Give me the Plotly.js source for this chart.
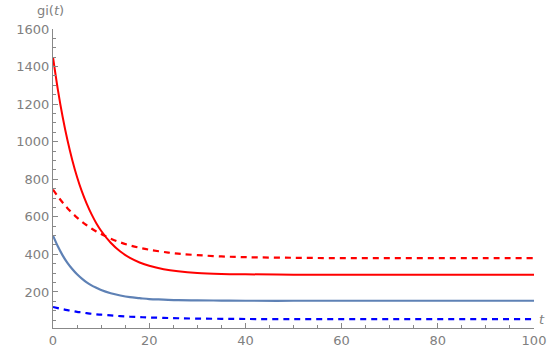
<!DOCTYPE html>
<html>
<head>
<meta charset="utf-8">
<script src="https://cdn.plot.ly/plotly-3.0.1.min.js"></script>
<style>html,body{margin:0;padding:0;background:#fff;}#chart{width:555px;height:350px;}</style>
</head>
<body>
<div id="chart"></div>
<script>
// t values sampled along the curves
const tVals = [0,1,2,3,4,5,6,7,8,9,10,12,14,16,18,20,23,26,30,35,40,50,60,70,80,90,100];
// red solid curve
const redSolid = [1450,1279,1133,1009,903,812,735,670,614,566,526,462,415,381,357,339,321,310,301,296,294,292,292,292,292,292,292];
// red dashed curve
const redDashed = [745,709,676,646,620,596,574,555,538,522,508,484,464,448,435,425,413,404,396,389,385,382,380,380,380,380,380];
// blue (steel) solid curve
const blueSolid = [500,443,395,355,322,294,271,251,235,222,210,193,181,172,167,162,159,156,155,154,153,153,153,153,153,153,153];
// blue dashed curve
const blueDashed = [120,114,108,103,99,94,91,87,84,81,79,75,71,68,66,64,62,60,58,57,56,55,55,55,55,55,55];

const xTicks = [0,20,40,60,80,100];
const yTicks = [200,400,600,800,1000,1200,1400,1600];

const traces = [
  {x: tVals, y: redDashed, mode:'lines', line:{color:'#ff0000', width:2.2, dash:'6px,5px', shape:'spline'}},
  {x: tVals, y: blueDashed, mode:'lines', line:{color:'#0000ff', width:2.2, dash:'6px,5px', shape:'spline'}},
  {x: tVals, y: blueSolid, mode:'lines', line:{color:'#5e81b5', width:2.2, shape:'spline'}},
  {x: tVals, y: redSolid, mode:'lines', line:{color:'#ff0000', width:2, shape:'spline'}}
];

const tickFont = {family:'DejaVu Sans, sans-serif', size:13, color:'#808080'};
const layout = {
  width:555, height:350,
  margin:{l:53, r:21, t:29, b:22},
  showlegend:false,
  paper_bgcolor:'#ffffff', plot_bgcolor:'#ffffff',
  xaxis:{
    range:[0,100], tickvals:xTicks, ticktext:xTicks.map(String),
    showgrid:false, zeroline:false, showline:true, linecolor:'#888888', linewidth:1,
    ticks:'inside', ticklen:5, tickcolor:'#888888', tickfont:tickFont,
    minor:{dtick:5, tick0:0, ticks:'inside', ticklen:3, tickcolor:'#888888', showgrid:false}
  },
  yaxis:{
    range:[8,1600], tickvals:yTicks, ticktext:yTicks.map(String),
    showgrid:false, zeroline:false, showline:true, linecolor:'#888888', linewidth:1,
    ticks:'inside', ticklen:5, tickcolor:'#888888', tickfont:tickFont,
    minor:{dtick:50, tick0:0, ticks:'inside', ticklen:3, tickcolor:'#888888', showgrid:false}
  },
  annotations:[
    {xref:'paper', yref:'paper', x:0, xshift:-3, y:1.0, yshift:9, xanchor:'center', yanchor:'bottom', showarrow:false,
     text:'gi(<i>t</i>)', font:{family:'DejaVu Sans, sans-serif', size:13, color:'#808080'}},
    {xref:'paper', yref:'paper', x:1.0, xshift:3, y:0, yshift:-1, xanchor:'left', yanchor:'bottom', showarrow:false,
     text:'<i>t</i>', font:{family:'DejaVu Sans, sans-serif', size:13, color:'#808080'}}
  ]
};
Plotly.newPlot('chart', traces, layout, {displayModeBar:false, staticPlot:true});
</script>
</body>
</html>
